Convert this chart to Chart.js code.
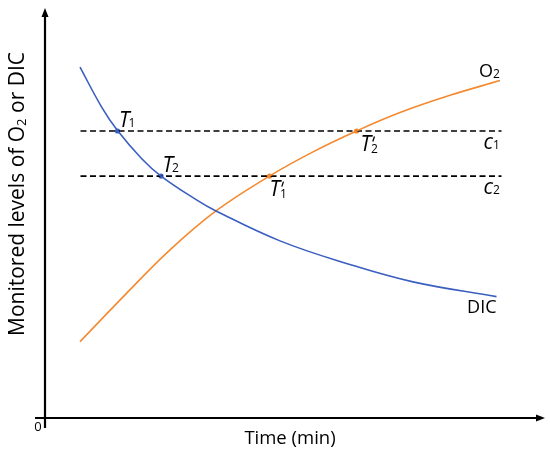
<!DOCTYPE html>
<html>
<head>
<meta charset="utf-8">
<script src="https://cdn.jsdelivr.net/npm/chart.js@4.4.0/dist/chart.umd.min.js"></script>
<style>
  html, body { margin: 0; padding: 0; background: #fff; }
  #wrap { width: 550px; height: 457px; }
</style>
</head>
<body>
<div id="wrap"><canvas id="chart"></canvas></div>
<script>
// values (arbitrary units, axes 0-100)
const dicTime = [7, 11.3, 14.5, 19.3, 23.2, 30.3, 34.2, 47, 60.3, 73.6, 90.3]
const dicLevel = [85.6, 75.9, 70.1, 63.3, 59.0, 53.2, 50.5, 43.2, 37.7, 33.2, 29.6]
const o2Time = [7, 16.3, 25, 34.2, 44.9, 53.6, 62.3, 71, 81, 91]
const o2Level = [18.6, 30.4, 41, 50.5, 59.0, 64.9, 70.0, 74.5, 78.7, 82.3]

const levelNames = ['c', 'c']
const levelSubs = ['1', '2']
const levelValues = [70, 59]
const levelFrom = 7.1
const levelTo = 91.3

// crossing points T1, T2 (DIC) and T'1, T'2 (O2)
const dicMarkTime = [14.5, 23.2]
const dicMarkLevel = [70, 59]
const dicMarkSubs = ['1', '2']
const o2MarkTime = [44.9, 62.3]
const o2MarkLevel = [59, 70]
const o2MarkSubs = ['1', '2']

const blue = '#3b5fc0'
const orange = '#f5892f'
const font = '"Open Sans", "DejaVu Sans", sans-serif'

const toPoints = (xs, ys) => xs.map((v, i) => ({ x: v, y: ys[i] }))

const datasets = [
    {
        data: toPoints(dicTime, dicLevel),
        borderColor: blue,
        borderWidth: 1.6,
        pointRadius: 0,
        tension: 0.4
    },
    {
        data: toPoints(o2Time, o2Level),
        borderColor: orange,
        borderWidth: 1.6,
        pointRadius: 0,
        tension: 0.4
    }
]
levelValues.forEach((v) => {
    datasets.push({
        data: [{ x: levelFrom, y: v }, { x: levelTo, y: v }],
        borderColor: '#000',
        borderWidth: 1.6,
        borderDash: [6, 3.5],
        pointRadius: 0
    })
})
datasets.push({
    data: toPoints(dicMarkTime, dicMarkLevel),
    showLine: false,
    pointRadius: 2.6,
    pointBackgroundColor: blue,
    pointBorderWidth: 0
})
datasets.push({
    data: toPoints(o2MarkTime, o2MarkLevel),
    showLine: false,
    pointRadius: 2.6,
    pointBackgroundColor: orange,
    pointBorderWidth: 0
})

// text with a subscript (and optional prime), left edge at px, baseline at py
function subText(ctx, px, py, main, sub, o) {
    ctx.font = `${o.italic ? 'italic ' : ''}${o.size}px ${font}`
    ctx.fillText(main, px, py)
    const w = ctx.measureText(main).width
    if (o.prime) {
        // prime mark drawn as a small slanted stroke
        ctx.save()
        ctx.lineWidth = 1.3
        ctx.beginPath()
        ctx.moveTo(px + w + 3.5, py - 14)
        ctx.lineTo(px + w + 1.8, py - 9)
        ctx.stroke()
        ctx.restore()
    }
    ctx.font = `${o.subSize}px ${font}`
    ctx.fillText(sub, px + w + (o.subDx || 0), py + (o.subDy || 0))
}

const sketchPlugin = {
    id: 'sketch',
    afterDatasetsDraw(chart) {
        const { ctx, chartArea: a, scales: { x, y } } = chart
        ctx.save()
        ctx.fillStyle = '#000'
        ctx.strokeStyle = '#000'
        ctx.lineWidth = 2.2

        // axes with arrow heads
        ctx.beginPath()
        ctx.moveTo(a.left, a.bottom + 10)
        ctx.lineTo(a.left, a.top + 7)
        ctx.moveTo(a.left - 10, a.bottom)
        ctx.lineTo(a.right - 7, a.bottom)
        ctx.stroke()
        ctx.beginPath()
        ctx.moveTo(a.left, a.top)
        ctx.lineTo(a.left - 3.5, a.top + 9)
        ctx.lineTo(a.left + 3.5, a.top + 9)
        ctx.closePath()
        ctx.moveTo(a.right, a.bottom)
        ctx.lineTo(a.right - 9, a.bottom - 3.5)
        ctx.lineTo(a.right - 9, a.bottom + 3.5)
        ctx.closePath()
        ctx.fill()

        ctx.textBaseline = 'alphabetic'
        ctx.textAlign = 'center'
        ctx.font = `13px ${font}`
        ctx.fillText('0', a.left - 7, a.bottom + 13)
        ctx.font = `18.5px ${font}`
        ctx.fillText('Time (min)', (a.left + a.right) / 2 - 5, a.bottom + 26)

        // rotated y title with subscript
        ctx.save()
        ctx.translate(23.5, 194)
        ctx.rotate(-Math.PI / 2)
        ctx.textAlign = 'left'
        const big = `21px ${font}`
        const small = `13px ${font}`
        const parts = [['Monitored levels of O', big, 0], ['2', small, 2], [' or DIC', big, 0]]
        let total = 0
        parts.forEach((p) => { ctx.font = p[1]; total += ctx.measureText(p[0]).width })
        let cx = -total / 2
        parts.forEach((p) => {
            ctx.font = p[1]
            ctx.fillText(p[0], cx, p[2])
            cx += ctx.measureText(p[0]).width
        })
        ctx.restore()

        ctx.textAlign = 'left'
        // T labels at the crossings
        const tOpt = { italic: true, size: 21, subSize: 12, subDx: -1, subDy: 0 }
        dicMarkTime.forEach((t, i) => {
            const px = x.getPixelForValue(t)
            const py = y.getPixelForValue(dicMarkLevel[i])
            subText(ctx, px + 1.5, py - 4, 'T', dicMarkSubs[i], tOpt)
        })
        o2MarkTime.forEach((t, i) => {
            const px = x.getPixelForValue(t)
            const py = y.getPixelForValue(o2MarkLevel[i])
            subText(ctx, px + i * 4, py + 19.5, 'T', o2MarkSubs[i], { ...tOpt, prime: true, subDx: 0, subDy: 2 })
        })

        // c1, c2 at the end of the dashed lines
        levelValues.forEach((v, i) => {
            const py = y.getPixelForValue(v)
            subText(ctx, x.getPixelForValue(levelTo) - 18, py + 18, levelNames[i], levelSubs[i],
                { italic: true, size: 21, subSize: 12, subDx: 0, subDy: 0 })
        })

        // series names
        const o2End = { x: x.getPixelForValue(o2Time[o2Time.length - 1]), y: y.getPixelForValue(o2Level[o2Level.length - 1]) }
        subText(ctx, o2End.x - 21, o2End.y - 4, 'O', '2', { size: 18, subSize: 12, subDx: 0, subDy: 1 })
        const dicEnd = { x: x.getPixelForValue(dicTime[dicTime.length - 1]), y: y.getPixelForValue(dicLevel[dicLevel.length - 1]) }
        ctx.font = `18px ${font}`
        ctx.textAlign = 'right'
        ctx.fillText('DIC', dicEnd.x, dicEnd.y + 16.5)
        ctx.restore()
    }
}

new Chart(document.getElementById('chart'), {
    type: 'line',
    data: { datasets: datasets },
    options: {
        responsive: true,
        maintainAspectRatio: false,
        animation: false,
        layout: { padding: { left: 45, right: 5, top: 8, bottom: 39 } },
        plugins: {
            legend: { display: false },
            tooltip: { enabled: false }
        },
        scales: {
            x: { type: 'linear', min: 0, max: 100, display: false },
            y: { min: 0, max: 100, display: false }
        }
    },
    plugins: [sketchPlugin]
})
</script>
</body>
</html>
